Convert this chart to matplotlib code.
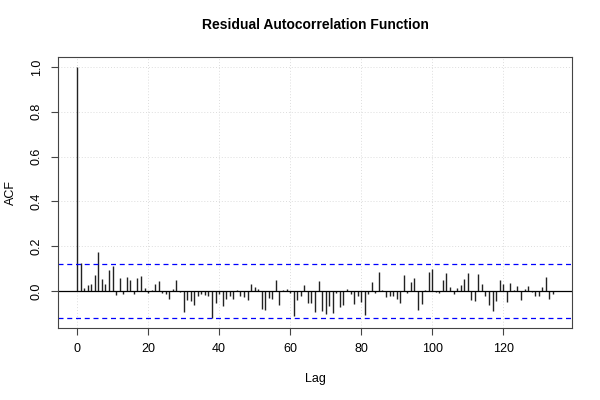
import matplotlib
matplotlib.use("Agg")
import matplotlib.pyplot as plt
import numpy as np

plt.rcParams['font.family'] = ['Liberation Sans', 'DejaVu Sans']

lags = list(range(0, 135))
acf = [1.0, 0.125, 0.012, 0.026, 0.032, 0.072, 0.176, 0.053, 0.030, 0.094,
       0.113, -0.017, 0.059, -0.012, 0.062, 0.051, -0.012, 0.060, 0.066, 0.014,
       -0.010, 0.003, 0.032, 0.045, -0.009, -0.015, -0.035, 0.009, 0.048, -0.006,
       -0.094, -0.038, -0.045, -0.063, -0.021, -0.012, -0.017, -0.023, -0.121, -0.053,
       -0.015, -0.065, -0.035, -0.024, -0.035, 0.006, -0.024, -0.026, -0.039, 0.030,
       0.017, 0.009, -0.080, -0.084, -0.032, -0.035, 0.049, -0.060, 0.004, 0.010,
       -0.008, -0.112, -0.038, -0.024, 0.026, -0.053, -0.053, -0.094, 0.044, -0.090,
       -0.103, -0.066, -0.098, -0.008, -0.071, -0.063, 0.009, -0.012, -0.057, -0.024,
       -0.048, -0.109, -0.012, 0.041, -0.008, 0.084, 0.005, -0.027, -0.023, -0.024,
       -0.035, -0.053, 0.072, -0.008, 0.041, 0.057, -0.084, -0.056, 0.005, 0.084,
       0.100, -0.005, -0.008, 0.050, 0.080, 0.017, -0.015, 0.014, 0.027, 0.053,
       0.081, -0.042, -0.043, 0.074, 0.032, -0.023, -0.062, -0.090, -0.045, 0.050,
       0.030, -0.050, 0.036, 0.006, 0.021, -0.038, 0.008, 0.023, -0.002, -0.020,
       -0.020, 0.017, 0.062, -0.035, -0.015]
conf = 0.12
xticks = [0, 20, 40, 60, 80, 100, 120]
yticks = [0.0, 0.2, 0.4, 0.6, 0.8, 1.0]

fig = plt.figure(figsize=(6, 4), dpi=100)
ax = fig.add_axes([0.0967, 0.18, 0.8566, 0.6775])

ax.vlines(lags, 0, acf, color='#222222', lw=1.0)
ax.axhline(0, color='black', lw=0.9)
ax.axhline(conf, color='blue', lw=0.9, ls=(0, (4, 3)))
ax.axhline(-conf, color='blue', lw=0.9, ls=(0, (4, 3)))

L = lags[-1]
ax.set_xlim(-0.04 * L, L * 1.04)
ymin, ymax = -conf, 1.0
r = ymax - ymin
ax.set_ylim(ymin - 0.04 * r, ymax + 0.04 * r)

ax.set_xticks(xticks)
ax.set_yticks(yticks)
ax.set_yticklabels([f"{v:.1f}" for v in yticks], rotation=90, va='center')
for v in xticks:
    ax.axvline(v, color='#dddddd', lw=0.7, ls=(0, (1, 2)), zorder=0)
for v in yticks:
    ax.axhline(v, color='#dddddd', lw=0.7, ls=(0, (1, 2)), zorder=0)

ax.tick_params(axis='both', labelsize=9, length=5, width=0.8, color='#444444', pad=6)
for s in ax.spines.values():
    s.set_color('#444444')
    s.set_linewidth(0.8)

ax.set_xlabel('Lag', fontsize=9, labelpad=13)
ax.set_ylabel('ACF', fontsize=9, labelpad=10)
ax.set_title('Residual Autocorrelation Function', fontsize=10, fontweight='bold', pad=20)

fig.savefig('out.png', dpi=100)
